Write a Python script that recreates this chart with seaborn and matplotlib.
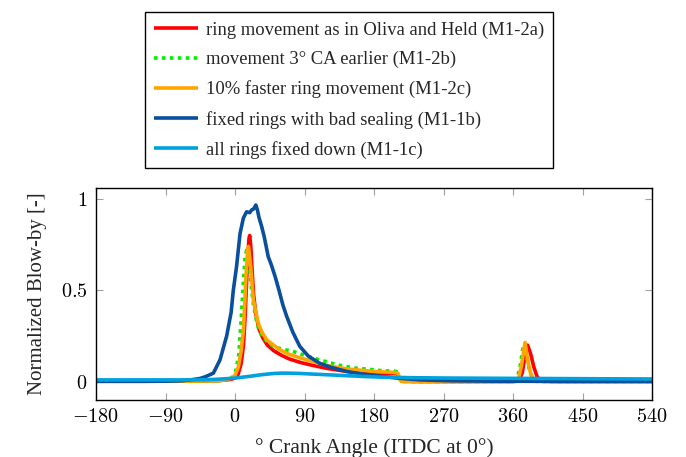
import matplotlib
matplotlib.use("Agg")
import matplotlib.pyplot as plt
import seaborn as sns
import pandas as pd

# Ring movement as in Oliva and Held (M1-2a)
angle_m12a = [-180, -60, -20, -5, 0, 4, 8, 11, 13, 15, 16.5, 18, 19, 20.5, 22, 24, 27, 31, 36, 42,
              50, 60, 70, 85, 100, 120, 145, 170, 190, 205, 210, 213, 216, 240, 300, 360, 368,
              372, 376, 379, 383, 387, 391, 396, 420, 480, 540]
blowby_m12a = [0.003, 0.003, 0.006, 0.013, 0.02, 0.04, 0.1, 0.2, 0.35, 0.55, 0.68, 0.78, 0.80, 0.74,
               0.62, 0.48, 0.37, 0.29, 0.24, 0.2, 0.17, 0.145, 0.125, 0.105, 0.09, 0.072, 0.056,
               0.049, 0.046, 0.045, 0.044, 0.02, 0.002, 0.001, 0.001, 0.001, 0.004, 0.05, 0.15,
               0.20, 0.15, 0.08, 0.03, 0.003, 0.001, 0.001, 0.001]

# Movement 3 deg CA earlier (M1-2b)
angle_m12b = [-180, -60, -20, -8, -3, 1, 5, 8.5, 11, 13, 15, 17, 19, 21, 24, 28, 32, 37, 45, 55, 65,
              75, 90, 105, 118, 135, 155, 178, 195, 203, 209, 212, 216, 240, 300, 360, 365, 369,
              373, 377, 381, 385, 390, 420, 480, 540]
blowby_m12b = [0.003, 0.003, 0.006, 0.013, 0.025, 0.06, 0.15, 0.375, 0.55, 0.68, 0.72, 0.70, 0.62,
               0.52, 0.42, 0.33, 0.27, 0.24, 0.205, 0.185, 0.175, 0.166, 0.145, 0.125, 0.11, 0.09,
               0.075, 0.066, 0.058, 0.062, 0.055, 0.02, 0.002, 0.001, 0.001, 0.001, 0.01, 0.08,
               0.19, 0.14, 0.07, 0.02, 0.002, 0.001, 0.001, 0.001]

# 10 % faster ring movement (M1-2c)
angle_m12c = [-180, -60, -20, -5, 0, 4.3, 8, 10.8, 12.5, 14.2, 16.4, 17.5, 20.3, 23.7, 27, 30, 35,
              41, 50, 58, 70, 85, 101, 120, 145, 165, 184, 200, 208, 211, 215, 240, 300, 360,
              367, 371, 375.6, 379, 383, 388, 420, 480, 540]
blowby_m12c = [0.003, 0.003, 0.006, 0.018, 0.035, 0.08, 0.17, 0.28, 0.42, 0.58, 0.72, 0.74, 0.63,
               0.45, 0.38, 0.32, 0.27, 0.23, 0.2, 0.175, 0.15, 0.13, 0.11, 0.088, 0.07, 0.062, 0.055,
               0.052, 0.05, 0.045, 0.003, 0.001, 0.001, 0.001, 0.01, 0.09, 0.215, 0.12, 0.04,
               0.003, 0.001, 0.001, 0.001]

# Fixed rings with bad sealing (M1-1b)
angle_m11b = [-180, -120, -90, -70, -58, -45, -38, -28, -19.4, -10.8, -5, -2.2, 2, 6.5, 10.8, 15,
              19, 21.6, 24, 27, 29, 31, 34.5, 38, 43, 47, 52, 57, 62, 67, 75, 84, 95, 110, 125,
              145, 165, 188, 210, 240, 280, 330, 400, 470, 540]
blowby_m11b = [0.002, 0.002, 0.003, 0.005, 0.01, 0.018, 0.028, 0.047, 0.12, 0.25, 0.38, 0.50, 0.63,
               0.81, 0.895, 0.93, 0.925, 0.94, 0.945, 0.967, 0.94, 0.90, 0.85, 0.79, 0.685, 0.64,
               0.575, 0.5, 0.42, 0.357, 0.27, 0.193, 0.14, 0.10, 0.078, 0.056, 0.042, 0.03, 0.02,
               0.01, 0.005, 0.003, 0.002, 0.002, 0.002]

# All rings fixed down (M1-1c)
angle_m11c = [-180, -60, -40, -25, -10, 0, 10, 20, 30, 40, 50, 60, 70, 85, 100, 120, 145, 170, 190,
              230, 280, 330, 380, 430, 480, 540]
blowby_m11c = [0.01, 0.01, 0.011, 0.013, 0.017, 0.02, 0.025, 0.03, 0.036, 0.041, 0.045, 0.047,
               0.047, 0.045, 0.042, 0.038, 0.033, 0.028, 0.025, 0.022, 0.02, 0.019, 0.018, 0.017,
               0.016, 0.015]

labels = [
    "ring movement as in Oliva and Held (M1-2a)",
    "movement 3° CA earlier (M1-2b)",
    "10% faster ring movement (M1-2c)",
    "fixed rings with bad sealing (M1-1b)",
    "all rings fixed down (M1-1c)",
]
colors = ["#ff0000", "#00ee00", "#ffa500", "#0a4f9e", "#00a2dd"]
styles = ["-", (0, (1, 1.2)), "-", "-", "-"]

series = [
    (angle_m12a, blowby_m12a),
    (angle_m12b, blowby_m12b),
    (angle_m12c, blowby_m12c),
    (angle_m11b, blowby_m11b),
    (angle_m11c, blowby_m11c),
]

x_ticks = [-180, -90, 0, 90, 180, 270, 360, 450, 540]
y_ticks = [0, 0.5, 1]
y_tick_labels = ["0", "0.5", "1"]

sns.set_theme(style="white")
plt.rcParams["font.family"] = ["Liberation Serif", "DejaVu Serif"]
plt.rcParams["mathtext.fontset"] = "cm"

fig = plt.figure(figsize=(6.86, 4.57), dpi=100)
ax = fig.add_axes([96 / 686, 1 - 400 / 457, (652 - 96) / 686, (400 - 188) / 457])

for (xs, ys), lab, col, ls in zip(series, labels, colors, styles):
    df = pd.DataFrame({"angle": xs, "blowby": ys})
    sns.lineplot(data=df, x="angle", y="blowby", ax=ax, color=col, lw=2.6,
                 estimator=None, label=lab, legend=False)
    line = ax.get_lines()[-1]
    line.set_linestyle(ls)
    line.set_solid_capstyle("butt")
    line.set_dash_capstyle("butt")

ax.set_xlim(-180, 540)
ax.set_ylim(-0.1, 1.06)
ax.set_xticks(x_ticks)
ax.set_xticklabels([f"${v}$" for v in x_ticks])
ax.set_yticks(y_ticks)
ax.set_yticklabels([f"${t}$" for t in y_tick_labels])
ax.tick_params(axis="both", which="both", direction="in", length=5, width=0.8,
               color="#a0a0a0", labelsize=14.5, labelcolor="black",
               top=True, right=True, bottom=True, left=True, pad=6)
for sp in ax.spines.values():
    sp.set_color("black")
    sp.set_linewidth(1.0)

ax.set_xlabel("° Crank Angle (ITDC at 0°)", fontsize=15.5, labelpad=8)
ax.set_ylabel("Normalized Blow-by [-]", fontsize=15, labelpad=10)

handles = ax.get_lines()
leg = fig.legend(handles=handles, labels=labels, loc="upper center",
                 bbox_to_anchor=(349 / 686, 1 - 12 / 457), fontsize=13.4,
                 frameon=True, fancybox=False, edgecolor="black", framealpha=1,
                 handlelength=2.35, handletextpad=0.43, labelspacing=0.66,
                 borderpad=0.5, borderaxespad=0)
leg.get_frame().set_linewidth(1.0)

fig.savefig("out.png", dpi=100)
